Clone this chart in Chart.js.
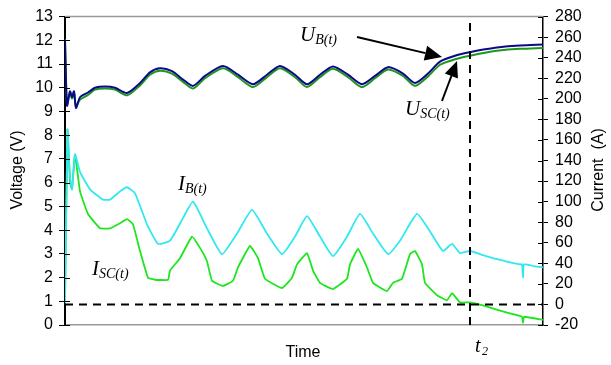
<!DOCTYPE html>
<html>
<head>
<meta charset="utf-8">
<script src="https://cdn.jsdelivr.net/npm/chart.js@4.4.1/dist/chart.umd.min.js"></script>
<style>
	html, body { margin: 0; padding: 0; background: #fff; }
	#wrap { width: 611px; height: 365px; position: relative; }
</style>
</head>
<body>
<div id="wrap"><canvas id="chart"></canvas></div>
<script>
// time in arbitrary units (axis has no tick labels)
const uTime = [0, 2, 5, 7, 9, 11, 15, 23, 30, 40, 50, 62, 75, 85, 95, 107, 118, 128, 140, 158, 173, 188, 202, 215, 230, 242, 255, 268, 283, 297, 310, 323, 338, 350, 363, 375, 390, 405, 420, 432, 455, 478]
const ubVolts = [12.0, 9.25, 9.85, 9.6, 9.85, 9.15, 9.6, 9.8, 10.0, 10.05, 10.0, 9.78, 10.2, 10.65, 10.82, 10.7, 10.35, 10.08, 10.5, 10.92, 10.55, 10.15, 10.55, 10.92, 10.55, 10.15, 10.55, 10.9, 10.55, 10.15, 10.5, 10.87, 10.6, 10.2, 10.6, 11.1, 11.35, 11.5, 11.62, 11.7, 11.78, 11.82]
const uscVolts = [12.05, 9.3, 9.8, 9.55, 9.8, 9.2, 9.5, 9.7, 9.92, 9.97, 9.92, 9.68, 10.1, 10.55, 10.72, 10.6, 10.25, 9.97, 10.4, 10.82, 10.45, 10.03, 10.45, 10.82, 10.45, 10.03, 10.45, 10.8, 10.45, 10.03, 10.4, 10.77, 10.5, 10.08, 10.48, 10.97, 11.2, 11.35, 11.48, 11.56, 11.64, 11.68]

const ibTime = [0, 2.5, 5, 7, 10, 15, 25, 38, 45, 55, 62, 70, 82, 93, 105, 118, 128, 142, 157, 172, 187, 202, 217, 230, 242, 255, 268, 282, 295, 308, 323, 335, 352, 365, 378, 387, 395, 405, 418, 432, 445, 455, 457, 458, 459, 470, 478]
const ibAmps = [1, 170, 124, 112, 146, 129, 112, 102, 102, 110, 114, 108, 78, 59, 62, 84, 100, 74, 49, 69, 92, 69, 49, 66, 86, 66, 47, 66, 88, 69, 49, 62, 88, 71, 52, 59, 50, 52, 48, 44, 41, 39, 39, 26, 39, 37, 36]

const iscTime = [0, 2.5, 5, 7, 10, 15, 23, 35, 45, 55, 62, 68, 75, 83, 90, 103, 105, 115, 127, 135, 142, 147, 158, 168, 173, 185, 193, 200, 217, 227, 232, 242, 248, 255, 268, 282, 285, 293, 302, 308, 322, 328, 337, 345, 350, 357, 360, 372, 382, 387, 395, 405, 418, 442, 457, 458, 459, 478]
const iscAmps = [1, 170, 119, 112, 146, 110, 88, 74, 74, 79, 83, 78, 52, 26, 24, 24, 33, 45, 66, 55, 42, 23, 18, 23, 36, 57, 45, 25, 16, 26, 39, 50, 33, 21, 15, 25, 39, 54, 36, 21, 13, 21, 25, 49, 52, 39, 21, 9, 4, 11, 2, 2, -1, -8, -12, -18, -12, -15]

const timeEnd = 478
const t2 = 405

const toPoints = (time, values) => time.map((x, i) => ({ x, y: values[i] }))

const labelSub = (ctx, x, y, main, sub) => {
	ctx.font = 'italic 21px "Liberation Serif"'
	ctx.fillText(main, x, y)
	const w = ctx.measureText(main).width
	ctx.font = 'italic 14px "Liberation Serif"'
	ctx.fillText(sub, x + w, y + 3)
}

const arrow = (ctx, x1, y1, x2, y2, len, half) => {
	const a = Math.atan2(y2 - y1, x2 - x1)
	const bx = x2 - len * Math.cos(a)
	const by = y2 - len * Math.sin(a)
	ctx.beginPath()
	ctx.moveTo(x1, y1)
	ctx.lineTo(bx, by)
	ctx.stroke()
	ctx.beginPath()
	ctx.moveTo(x2, y2)
	ctx.lineTo(bx + half * Math.sin(a), by - half * Math.cos(a))
	ctx.lineTo(bx - half * Math.sin(a), by + half * Math.cos(a))
	ctx.closePath()
	ctx.fill()
}

const decorations = {
	id: 'decorations',
	afterDraw(chart) {
		const { ctx, chartArea: area, scales } = chart
		ctx.save()
		// top frame line
		ctx.strokeStyle = '#999'
		ctx.lineWidth = 1.5
		ctx.beginPath()
		ctx.moveTo(area.left, area.top)
		ctx.lineTo(area.right, area.top)
		ctx.stroke()
		// inner halves of the cross ticks
		ctx.strokeStyle = '#000'
		ctx.lineWidth = 1
		scales.y.ticks.forEach((t, i) => {
			const py = Math.round(scales.y.getPixelForTick(i)) + 0.5
			ctx.beginPath(); ctx.moveTo(area.left, py); ctx.lineTo(area.left + 5, py); ctx.stroke()
		})
		scales.y1.ticks.forEach((t, i) => {
			const py = Math.round(scales.y1.getPixelForTick(i)) + 0.5
			ctx.beginPath(); ctx.moveTo(area.right - 5, py); ctx.lineTo(area.right, py); ctx.stroke()
		})
		// axis titles
		ctx.fillStyle = '#000'
		ctx.font = '16px "Liberation Sans"'
		ctx.textAlign = 'center'
		ctx.textBaseline = 'middle'
		ctx.fillText('Time', 303, 353)
		ctx.save(); ctx.translate(18, 170); ctx.rotate(-Math.PI / 2); ctx.fillText('Voltage (V)', 0, 0); ctx.restore()
		ctx.save(); ctx.translate(599, 170); ctx.rotate(-Math.PI / 2); ctx.fillText('Current  (A)', 0, 0); ctx.restore()
		// curve labels
		ctx.textAlign = 'left'
		ctx.textBaseline = 'alphabetic'
		labelSub(ctx, 300, 41, 'U', 'B(t)')
		labelSub(ctx, 405, 115, 'U', 'SC(t)')
		labelSub(ctx, 178, 190, 'I', 'B(t)')
		labelSub(ctx, 92, 275, 'I', 'SC(t)')
		ctx.font = 'italic 20px "Liberation Serif"'
		ctx.fillText('t', 475, 352)
		ctx.font = 'italic 12px "Liberation Serif"'
		ctx.fillText('2', 482, 355)
		// arrows
		ctx.strokeStyle = '#000'
		ctx.fillStyle = '#000'
		ctx.lineWidth = 2
		arrow(ctx, 357, 37, 442, 57, 17, 7.5)
		arrow(ctx, 442, 101, 457, 61, 16, 7)
		ctx.restore()
	}
}

new Chart(document.getElementById('chart'), {
	type: 'line',
	data: {
		datasets: [
			{
				label: 'zero',
				data: [{ x: 0, y: 0 }, { x: timeEnd, y: 0 }],
				yAxisID: 'y1',
				borderColor: '#000',
				borderWidth: 2,
				borderDash: [8, 6],
				pointRadius: 0,
			},
			{
				label: 't2',
				data: [{ x: t2, y: -20 }, { x: t2, y: 280 }],
				yAxisID: 'y1',
				borderColor: '#000',
				borderWidth: 2,
				borderDash: [8, 6],
				pointRadius: 0,
			},
			{
				label: 'U_B',
				data: toPoints(uTime, ubVolts),
				yAxisID: 'y',
				borderColor: '#0a0a88',
				borderWidth: 2,
				pointRadius: 0,
				tension: 0.25,
			},
			{
				label: 'U_SC',
				data: toPoints(uTime, uscVolts),
				yAxisID: 'y',
				borderColor: '#1e961e',
				borderWidth: 2,
				pointRadius: 0,
				tension: 0.25,
			},
			{
				label: 'I_B',
				data: toPoints(ibTime, ibAmps),
				yAxisID: 'y1',
				borderColor: '#30e8f0',
				borderWidth: 1.8,
				pointRadius: 0,
				tension: 0.15,
			},
			{
				label: 'I_SC',
				data: toPoints(iscTime, iscAmps),
				yAxisID: 'y1',
				borderColor: '#1ee61e',
				borderWidth: 1.8,
				pointRadius: 0,
				tension: 0.1,
			},
		]
	},
	options: {
		responsive: true,
		maintainAspectRatio: false,
		animation: false,
		layout: { padding: { top: 13, left: 0, right: 0, bottom: 0 } },
		plugins: { legend: { display: false }, tooltip: { enabled: false } },
		scales: {
			x: {
				type: 'linear',
				min: 0,
				max: timeEnd,
				ticks: { display: false },
				grid: { display: false },
				border: { display: true, color: '#999', width: 1.5 },
				afterFit: scale => { scale.height = 40 },
			},
			y: {
				position: 'left',
				min: 0,
				max: 13,
				ticks: { stepSize: 1, autoSkip: false, color: '#000', padding: 6, font: { family: 'Liberation Sans', size: 16 } },
				grid: { drawOnChartArea: false, tickLength: 6, color: '#000' },
				border: { color: '#000', width: 2 },
				afterFit: scale => { scale.width = 65 },
			},
			y1: {
				position: 'right',
				min: -20,
				max: 280,
				ticks: { stepSize: 20, autoSkip: false, color: '#000', padding: 7, font: { family: 'Liberation Sans', size: 16 } },
				grid: { drawOnChartArea: false, tickLength: 5, color: '#000' },
				border: { color: '#000', width: 1.5 },
				afterFit: scale => { scale.width = 68 },
			},
		}
	},
	plugins: [decorations]
})
</script>
</body>
</html>
